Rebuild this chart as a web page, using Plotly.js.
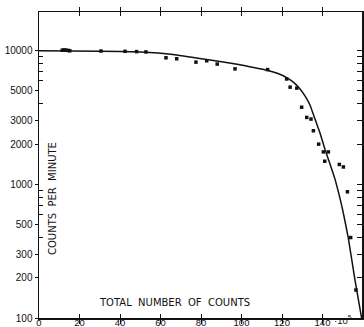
<!DOCTYPE html>
<html><head><meta charset="utf-8">
<script src="https://cdn.plot.ly/plotly-3.0.1.min.js"></script>
<style>html,body{margin:0;padding:0;background:#fff}#chart{width:364px;height:327px}</style>
</head><body><div id="chart"></div>
<script>
// Measured points (total counts in units of 10^5, counts per minute)
const pointX = [11.5, 12.5, 13.5, 14.5, 15.2, 30.6, 42.5, 48.2, 52.8, 62.7, 68.0, 77.5, 82.8, 88.0, 96.8, 112.9, 122.3, 124.0, 127.3, 129.7, 132.2, 134.3, 135.5, 138.1, 140.4, 141.1, 142.9, 148.3, 150.3, 152.3, 153.9, 156.5];
const pointY = [10100, 10150, 10100, 10050, 10000, 9950, 9900, 9850, 9800, 8860, 8710, 8220, 8410, 7950, 7320, 7230, 6150, 5340, 5250, 3780, 3170, 3080, 2520, 2000, 1750, 1490, 1750, 1410, 1350, 880, 400, 162];
// Smooth fitted curve
const curveX = [0, 30, 50, 66.2, 82.8, 99.3, 104.2, 112.6, 118.0, 122.5, 126.0, 128.9, 131.5, 133.8, 136.3, 138.8, 141.2, 143.7, 146.2, 148.1, 149.9, 152.7, 156.0, 159.3];
const curveY = [10000, 9910, 9780, 9380, 8600, 7850, 7580, 7140, 6750, 6270, 5750, 5180, 4560, 3930, 3080, 2410, 1830, 1420, 1090, 850, 650, 400, 194, 100];
const xTickVals = [0, 20, 40, 60, 80, 100, 120, 140];
const xTickText = ['0', '20', '40', '60', '80', '100', '120', '140'];
const yTickVals = [100, 200, 300, 500, 1000, 2000, 3000, 5000, 10000];
const yTickText = ['100', '200', '300', '500', '1000', '2000', '3000', '5000', '10000'];
const yMinorTicks = [400, 600, 700, 800, 900, 4000, 6000, 7000, 8000, 9000];
const yRightTicks = [100, 200, 300, 400, 500, 600, 700, 800, 900, 1000, 2000, 3000, 4000, 5000, 6000, 7000, 8000, 9000, 10000];

const ink = '#111';
const yRange = [2, 4.29];
const traces = [
  {x: curveX, y: curveY, mode: 'lines', line: {color: ink, width: 1.5, shape: 'spline', smoothing: 0.3}, hoverinfo: 'skip'},
  {x: pointX, y: pointY, mode: 'markers', marker: {symbol: 'square', size: 3.5, color: ink}},
  {x: [1], y: [1000], yaxis: 'y2', mode: 'markers', marker: {size: 1, opacity: 0}}
];
const layout = {
  width: 364, height: 327,
  margin: {l: 39, r: 2, t: 12, b: 9},
  paper_bgcolor: '#fff', plot_bgcolor: '#fff',
  showlegend: false,
  font: {family: 'Liberation Sans, Arial, sans-serif', size: 10, color: ink},
  xaxis: {
    range: [0, 159.5], tickmode: 'array', tickvals: xTickVals, ticktext: xTickText,
    ticks: 'inside', ticklen: 4, tickwidth: 1, tickcolor: ink, ticklabelstandoff: -5,
    showline: true, linecolor: ink, linewidth: 1.5, mirror: 'allticks',
    showgrid: false, zeroline: false, fixedrange: true,
    tickfont: {size: 9.5, color: ink}
  },
  yaxis: {
    type: 'log', range: yRange, tickmode: 'array', tickvals: yTickVals, ticktext: yTickText,
    ticks: 'outside', ticklen: 3, tickwidth: 1, tickcolor: ink,
    minor: {tickvals: yMinorTicks, ticks: 'inside', ticklen: 4, tickwidth: 1, tickcolor: ink, showgrid: false},
    showline: true, linecolor: ink, linewidth: 1.5, mirror: true,
    showgrid: false, zeroline: false, fixedrange: true,
    tickfont: {size: 10, color: ink}
  },
  yaxis2: {
    type: 'log', range: yRange, overlaying: 'y', side: 'right', anchor: 'x',
    tickmode: 'array', tickvals: yRightTicks, showticklabels: false,
    ticks: 'inside', ticklen: 5, tickwidth: 1, tickcolor: ink,
    showline: false, showgrid: false, zeroline: false, fixedrange: true
  },
  annotations: [
    {text: 'TOTAL\u00a0 NUMBER\u00a0 OF\u00a0 COUNTS', xref: 'paper', yref: 'paper', x: 0.418, y: 0.052,
     xanchor: 'center', yanchor: 'middle', showarrow: false,
     font: {family: 'DejaVu Sans, sans-serif', size: 10, color: ink}},
    {text: 'COUNTS\u00a0 PER\u00a0 MINUTE', xref: 'paper', yref: 'paper', x: 0.0435, y: 0.389,
     xanchor: 'center', yanchor: 'middle', textangle: -90, showarrow: false,
     font: {family: 'DejaVu Sans, sans-serif', size: 10, color: ink}},
    {text: '·10<sup>5</sup>', xref: 'x', yref: 'paper', x: 145.2, y: -0.029,
     xanchor: 'left', yanchor: 'bottom', showarrow: false, borderpad: 0,
     font: {family: 'Liberation Sans, Arial, sans-serif', size: 9.5, color: ink}}
  ]
};
Plotly.newPlot('chart', traces, layout, {displayModeBar: false, staticPlot: true});
</script>
</body></html>
